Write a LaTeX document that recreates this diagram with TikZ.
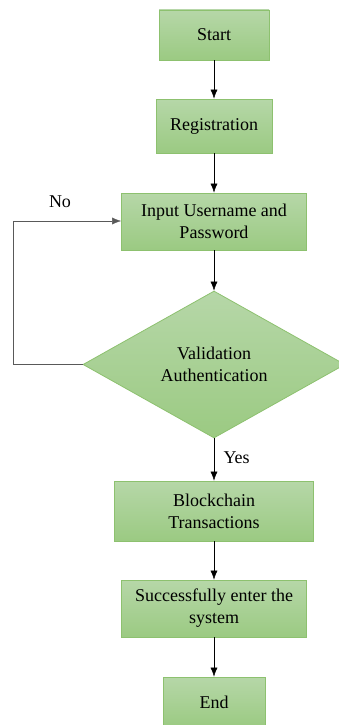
\documentclass[tikz,border=0pt]{standalone}
\usepackage{fontspec}
\setmainfont{Liberation Serif}
\usetikzlibrary{shapes.geometric,arrows.meta}
\definecolor{boxtop}{HTML}{B6D7A8}
\definecolor{boxbot}{HTML}{9BCA82}
\definecolor{boxline}{HTML}{8DC16F}

\begin{document}
\begin{tikzpicture}[x=1pt,y=-1pt,
  font=\fontsize{18}{22}\selectfont,
  >={Latex[length=9pt,width=7pt]}]
 \useasboundingbox (0,0) rectangle (338,725);
 \begin{scope}[every node/.style={draw=boxline, line width=0.8pt, top color=boxtop, bottom color=boxbot, align=center, inner sep=2pt}]
   \node (start) [minimum width=110pt, minimum height=50pt] at (214,35) {Start};
   \node (reg) [minimum width=116pt, minimum height=54pt] at (214,126) {Registration};
   \node (input) [minimum width=185pt, minimum height=57pt] at (214,221.5) {Input Username and\\Password};
   \node (valid) [diamond, minimum width=262pt, minimum height=147pt, inner sep=0pt] at (214,364.5) {Validation\\Authentication};
   \node (block) [minimum width=199pt, minimum height=60pt] at (214,511) {Blockchain\\Transactions};
   \node (succ) [minimum width=185pt, minimum height=57pt] at (214,608.5) {Successfully enter the\\system};
   \node (end) [minimum width=102pt, minimum height=50pt] at (214,702) {End};
 \end{scope}
 \coordinate (c1) at (13,364.5);
 \coordinate (c2) at (13,221);
 \draw[->] (start) -- (reg);
 \draw[->] (reg) -- (input);
 \draw[->] (input) -- (valid);
 \draw[->] (valid) -- node[right=6pt, pos=0.45] {Yes} (block);
 \draw[->] (block) -- (succ);
 \draw[->] (succ) -- (end);
 \draw[->, draw=black!65] (valid.west) -- (c1) -- (c2) -- (input.west |- c2);
 \node (no) at (60,202) {No};
\end{tikzpicture}
\end{document}
